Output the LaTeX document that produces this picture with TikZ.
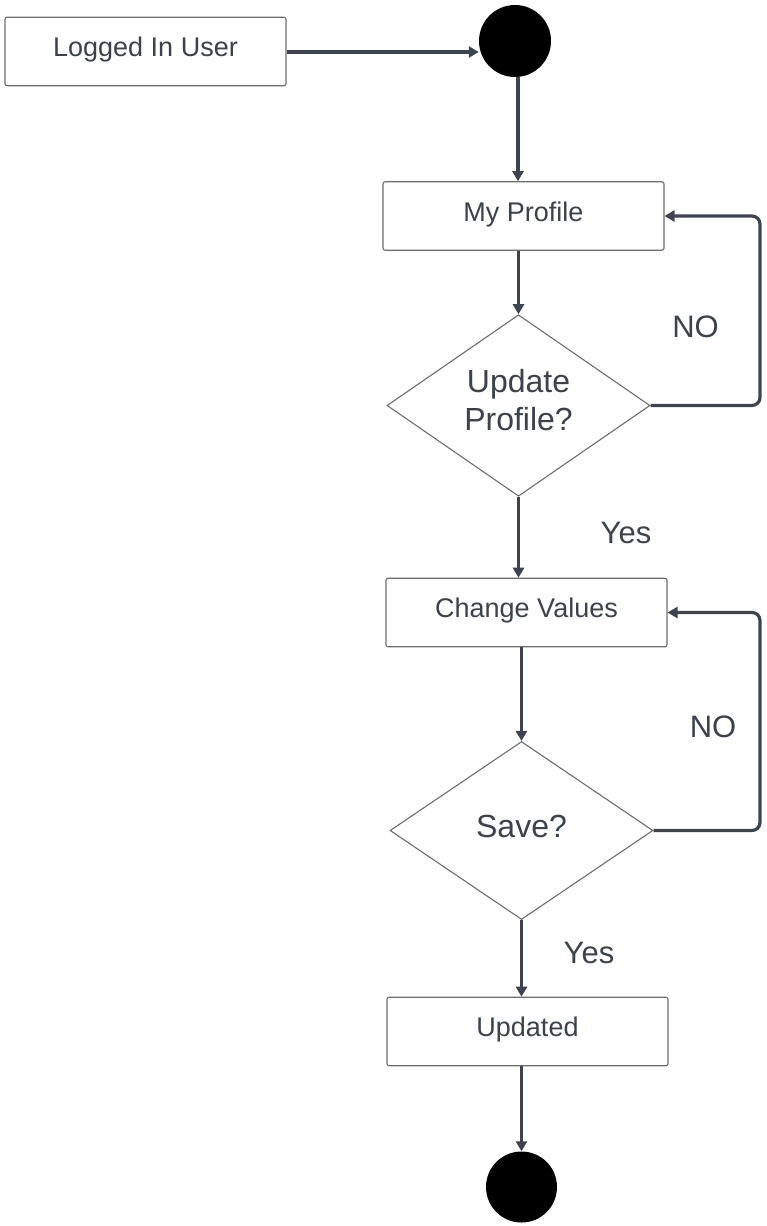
\documentclass[tikz,border=0pt]{standalone}
\usepackage{fontspec}
\setmainfont{Liberation Sans}
\usetikzlibrary{shapes.geometric,arrows.meta,calc}
\definecolor{txt}{HTML}{3B424C}
\definecolor{lnk}{HTML}{3D4350}
\definecolor{brd}{HTML}{6E6E6E}
\begin{document}
\begin{tikzpicture}[x=1pt,y=-1pt,
  boxnode/.style={draw=brd,line width=1.1pt,rounded corners=2pt,fill=white,
    minimum width=281pt,minimum height=68.5pt,inner sep=0pt,text=txt,
    font=\fontsize{27}{32}\selectfont,text height=20pt,text depth=10pt},
  decision/.style={draw=brd,line width=1.1pt,diamond,fill=white,inner sep=0pt,
    minimum width=263pt,minimum height=178pt,text=txt,align=center},
  dot/.style={circle,fill=black,inner sep=0pt},
  lbl/.style={text=txt,font=\fontsize{31}{38}\selectfont,inner sep=0pt,anchor=base},
  arr/.style={draw=lnk,line width=3.2pt,-{Triangle[length=10pt,width=11pt]}},
  loop/.style={arr,rounded corners=8pt}]
\useasboundingbox (0,0) rectangle (767,1226);

\node[boxnode] (login) at (145.5,51.5) {Logged In User};
\node[dot,minimum size=72pt] (start) at (515,41) {};
\node[boxnode] (prof) at (523.5,216) {My Profile};
\node[decision,font=\fontsize{32}{38}\selectfont,text height=61pt,text depth=12pt] (upd) at (518.5,405.5) {Update\\Profile?};
\node[boxnode] (chg) at (526.5,612.5) {Change Values};
\node[decision,font=\fontsize{32}{38}\selectfont,text height=23pt,text depth=10pt] (save) at (521.5,830.5) {Save?};
\node[boxnode] (done) at (527.5,1031.5) {Updated};
\node[dot,minimum size=71pt] (stop) at (521.5,1187) {};

\coordinate (loopA) at (760,0);

\draw[arr] (login.east |- 0,52) -- (start.west |- 0,52);
\draw[arr] (start.south -| 518,0) -- (prof.north -| 518,0);
\draw[arr] (prof.south -| upd.north) -- (upd.north);
\draw[loop] (upd.east) -- (upd.east -| loopA) -- (prof.east -| loopA) -- (prof.east);
\draw[arr] (upd.south) -- (chg.north -| upd.south);
\draw[arr] (chg.south -| save.north) -- (save.north);
\draw[loop] (save.east) -- (save.east -| loopA) -- (chg.east -| loopA) -- (chg.east);
\draw[arr] (save.south) -- (done.north -| save.south);
\draw[arr] (done.south -| stop.north) -- (stop.north);

\node[lbl] (no1) at (695.5,337) {NO};
\node[lbl] (yes1) at (626,543) {Yes};
\node[lbl] (no2) at (713,737) {NO};
\node[lbl] (yes2) at (589,963) {Yes};
\end{tikzpicture}
\end{document}
